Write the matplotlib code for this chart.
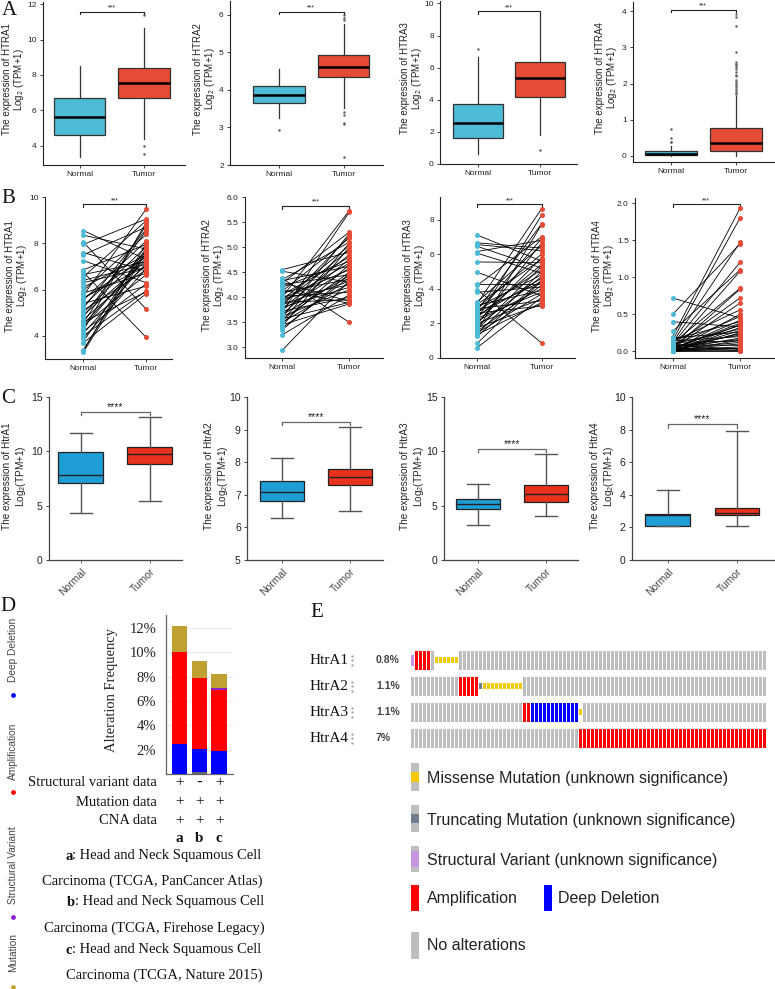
import numpy as np
import matplotlib
matplotlib.use("Agg")
import matplotlib.pyplot as plt
from matplotlib.patches import Rectangle
from matplotlib.ticker import FormatStrFormatter
from matplotlib.transforms import blended_transform_factory

plt.rcParams['font.family'] = ['Liberation Sans', 'DejaVu Sans']
plt.rcParams['mathtext.fontset'] = 'custom'
plt.rcParams['mathtext.rm'] = 'Liberation Sans'
plt.rcParams['mathtext.it'] = 'Liberation Sans:italic'
plt.rcParams['mathtext.bf'] = 'Liberation Sans:bold'

# ----------------------------------------------------------------- data
groups = ["Normal", "Tumor"]
genes_upper = ["HTRA1", "HTRA2", "HTRA3", "HTRA4"]
genes_mixed = ["HtrA1", "HtrA2", "HtrA3", "HtrA4"]

# Panel A (box plots, TCGA unpaired)
a_normal_low = [3.34, 3.24, 0.60, 0.00]
a_normal_q1 = [4.58, 3.66, 1.64, 0.02]
a_normal_med = [5.63, 3.86, 2.55, 0.06]
a_normal_q3 = [6.71, 4.11, 3.71, 0.13]
a_normal_high = [8.52, 4.55, 6.68, 0.28]
a_normal_out = [[], [2.93], [7.16], [0.73, 0.50, 0.39, 0.39]]
a_tumor_low = [4.36, 3.51, 1.80, 0.00]
a_tumor_q1 = [6.71, 4.34, 4.19, 0.14]
a_tumor_med = [7.57, 4.62, 5.35, 0.36]
a_tumor_q3 = [8.38, 4.93, 6.37, 0.76]
a_tumor_high = [10.63, 5.75, 9.34, 1.66]
a_tumor_out = [[11.38, 3.98, 3.53],
               [6.00, 5.91, 5.87, 3.40, 3.33, 3.11, 3.09, 2.22],
               [0.87],
               [3.92, 3.85, 3.60, 2.87, 2.60, 2.55, 2.50, 2.46, 2.40, 2.32,
                2.25, 2.20, 2.10, 2.05, 2.00, 1.96, 1.91, 1.85, 1.80, 1.75, 1.70]]
a_sig_y = [11.57, 6.09, 9.52, 4.05]
a_sig_label = "***"

# Panel B (paired samples)
b_htra1_normal = [8.55, 8.35, 8.05, 7.95, 7.60, 7.50, 7.25, 6.85, 6.75, 6.65, 6.55, 6.40, 6.30, 6.10, 5.95,
                  5.85, 5.75, 5.65, 5.60, 5.55, 5.40, 5.30, 5.20, 5.10, 5.00, 4.90, 4.80, 4.70, 4.60, 4.55,
                  4.50, 4.45, 4.35, 4.25, 4.20, 4.10, 4.00, 3.90, 3.75, 3.70, 3.40, 3.35, 3.30]
b_htra1_tumor = [7.30, 7.75, 5.15, 9.05, 6.80, 8.70, 6.30, 7.95, 3.93, 7.20, 8.98, 7.10, 6.95, 7.50, 8.38,
                 6.70, 9.48, 7.00, 7.42, 8.10, 6.15, 7.85, 8.62, 6.85, 7.65, 7.25, 8.55, 7.05, 5.90, 8.80,
                 7.38, 6.65, 7.55, 8.90, 6.25, 7.15, 5.95, 6.90, 7.80, 5.82, 7.72, 8.00, 7.60]
b_htra2_normal = [4.55, 4.52, 4.38, 4.35, 4.33, 4.30, 4.28, 4.25, 4.20, 4.15, 4.12, 4.10, 4.05, 4.02, 4.00,
                  3.98, 3.97, 3.95, 3.92, 3.90, 3.87, 3.85, 3.82, 3.80, 3.77, 3.75, 3.72, 3.70, 3.67, 3.65,
                  3.62, 3.60, 3.57, 3.55, 3.52, 3.50, 3.48, 3.45, 3.42, 3.38, 3.35, 3.25, 2.94]
b_htra2_tumor = [4.90, 4.30, 3.50, 5.10, 4.62, 3.92, 5.30, 4.45, 4.72, 3.88, 5.18, 4.36, 4.80, 4.10, 5.73,
                 4.55, 4.25, 5.03, 4.68, 3.95, 4.95, 4.32, 5.22, 4.20, 4.85, 4.58, 4.00, 5.70, 4.76, 4.43,
                 4.15, 5.27, 3.90, 4.50, 5.08, 4.28, 4.65, 3.87, 5.00, 4.40, 4.47, 4.05, 4.33]
b_htra3_normal = [7.10, 6.65, 6.55, 6.45, 6.15, 6.05, 5.55, 4.95, 4.30, 4.20, 3.95, 3.80, 3.25, 3.15, 3.10,
                  3.05, 2.95, 2.90, 2.85, 2.75, 2.70, 2.65, 2.60, 2.55, 2.45, 2.35, 2.30, 2.25, 2.15, 2.05,
                  2.00, 1.95, 1.85, 1.75, 1.65, 1.60, 1.55, 1.45, 1.40, 1.35, 1.25, 0.85, 0.60]
b_htra3_tumor = [5.60, 6.35, 6.20, 5.20, 6.80, 4.90, 5.50, 3.60, 4.30, 7.00, 0.87, 4.10, 6.50, 8.62, 5.70,
                 3.90, 4.80, 6.00, 3.30, 7.75, 5.10, 4.40, 3.00, 6.90, 4.60, 5.40, 3.80, 8.25, 4.00, 5.80,
                 3.40, 6.65, 4.70, 3.10, 5.30, 7.70, 4.20, 3.70, 5.00, 3.20, 4.50, 4.45, 3.50]
b_htra4_normal = [0.72, 0.50, 0.40, 0.27, 0.20, 0.18, 0.16, 0.15, 0.14, 0.13, 0.12, 0.12, 0.11, 0.10, 0.10,
                  0.09, 0.08, 0.08, 0.07, 0.06, 0.06, 0.05, 0.05, 0.05, 0.04, 0.04, 0.03, 0.03, 0.03, 0.02,
                  0.02, 0.02, 0.02, 0.01, 0.01, 0.01, 0.01, 0.00, 0.00, 0.00, 0.00, 0.00, 0.00]
b_htra4_tumor = [0.45, 1.45, 0.33, 1.10, 1.93, 0.26, 0.40, 1.80, 0.20, 0.56, 1.47, 0.14, 0.85, 0.30, 1.20,
                 0.08, 0.47, 0.03, 0.72, 0.22, 0.16, 1.08, 0.35, 0.05, 0.65, 0.12, 0.38, 0.01, 0.84, 0.24,
                 0.10, 0.42, 0.18, 0.50, 0.02, 0.28, 0.06, 0.32, 0.00, 0.36, 0.15, 0.04, 0.25]
b_sig_y = [9.70, 5.83, 8.89, 1.99]

# Panel C (box plots, Prism style)
c_normal_low = [4.37, 6.28, 3.20, 2.11]
c_normal_q1 = [7.08, 6.82, 4.70, 2.11]
c_normal_med = [7.78, 7.10, 5.14, 2.75]
c_normal_q3 = [9.90, 7.42, 5.60, 2.85]
c_normal_high = [11.69, 8.14, 7.02, 4.32]
c_tumor_low = [5.45, 6.50, 4.06, 2.11]
c_tumor_q1 = [8.83, 7.30, 5.32, 2.75]
c_tumor_med = [9.75, 7.56, 6.06, 2.87]
c_tumor_q3 = [10.37, 7.80, 6.86, 3.18]
c_tumor_high = [13.14, 9.08, 9.75, 7.89]
c_sig_y = [13.60, 9.23, 10.25, 8.36]
c_sig_label = "****"

# Panel D (alteration frequency, %)
d_studies = ["a", "b", "c"]
d_multiple = [0.00, 0.15, 0.00]
d_deep_deletion = [2.50, 1.90, 1.90]
d_amplification = [7.50, 5.85, 5.00]
d_structural = [0.00, 0.00, 0.15]
d_mutation = [2.20, 1.35, 1.15]
d_sv_data = ["+", "-", "+"]
d_mut_data = ["+", "+", "+"]
d_cna_data = ["+", "+", "+"]
d_yticks = [2, 4, 6, 8, 10, 12]
d_notes = [("a", ": Head and Neck Squamous Cell", "Carcinoma (TCGA, PanCancer Atlas)"),
           ("b", ": Head and Neck Squamous Cell", "Carcinoma (TCGA, Firehose Legacy)"),
           ("c", ": Head and Neck Squamous Cell", "Carcinoma (TCGA, Nature 2015)")]
d_side_legend = ["Deep Deletion", "Amplification", "Structural Variant", "Mutation"]

# Panel E (oncoprint, run-length per gene)
e_pct = ["0.8%", "1.1%", "1.1%", "7%"]
e_runs = [
    [("SV", 1), ("AMP", 4), ("NONE", 1), ("MIS", 6), ("NONE", 77)],
    [("NONE", 12), ("AMP", 5), ("TRUNC", 1), ("MIS", 10), ("NONE", 61)],
    [("NONE", 28), ("AMP", 2), ("DEL", 12), ("MIS", 1), ("NONE", 46)],
    [("NONE", 42), ("AMP", 47)],
]
e_legend = ["Missense Mutation (unknown significance)", "Truncating Mutation (unknown significance)",
            "Structural Variant (unknown significance)", "Amplification", "Deep Deletion", "No alterations"]

# ----------------------------------------------------------------- style
C_NORM = "#4DBBD5"
C_TUM = "#E64B35"
C_NORM_C = "#1F9ED6"
C_TUM_C = "#E8321C"
ONCO = {"NONE": "#bebebe", "AMP": "#ff0000", "DEL": "#0000ff", "MIS": "#f7c800",
        "TRUNC": "#6f7f8f", "SV": "#c896e0"}
D_COL = {"multiple": "#666666", "del": "#0000ff", "amp": "#ff0000", "sv": "#8b1fc9", "mut": "#c0a030"}
SERIF = ['Liberation Serif', 'DejaVu Serif']

W, H = 775, 989
fig = plt.figure(figsize=(W / 100, H / 100), dpi=100)

# overlay in pixel coordinates for free text
ov = fig.add_axes([0, 0, 1, 1], zorder=10)
ov.set_xlim(0, W)
ov.set_ylim(H, 0)
ov.axis('off')


def px_axes(l, t, r, b):
    return fig.add_axes([l / W, 1 - b / H, (r - l) / W, (b - t) / H])


def style_basic(ax, xlim, ylim, yticks, fs_tick, lw=0.8, col='#222222'):
    ax.set_xlim(*xlim)
    ax.set_ylim(*ylim)
    ax.set_yticks(yticks)
    ax.set_xticks([1, 2])
    for s in ['top', 'right']:
        ax.spines[s].set_visible(False)
    for s in ['left', 'bottom']:
        ax.spines[s].set_color(col)
        ax.spines[s].set_linewidth(lw)
    ax.tick_params(labelsize=fs_tick, length=2.5, width=0.6, colors=col, pad=2)


def bracket(ax, y, drop, label, fs, color, lw=0.8):
    ax.plot([1, 1, 2, 2], [y - drop, y, y, y - drop], color=color, lw=lw, clip_on=False)
    ax.text(1.5, y, label, ha='center', va='bottom', fontsize=fs, color='#222222')


def ylabel_px(xc, yc, text, fs, ls):
    ov.text(xc, yc, text, rotation=90, ha='center', va='center', multialignment='center',
            fontsize=fs, linespacing=ls, color='#222222')


# ----------------------------------------------------------------- Row A
a_rects = [(43, 2, 185, 165), (230, 1, 383, 165), (440, 1, 577, 164), (633, 2, 775, 162)]
a_xlims = [(0.43, 2.64), (0.24, 2.61), (0.40, 2.585), (0.42, 2.60)]
a_ylims = [(2.9, 12.13), (2.0, 6.37), (0.0, 10.15), (-0.175, 4.26)]
a_yticks = [[4, 6, 8, 10, 12], [2, 3, 4, 5, 6], [0, 2, 4, 6, 8, 10], [0, 1, 2, 3, 4]]
a_drop = [0.13, 0.06, 0.18, 0.07]
a_label_x = [14, 205, 412, 607]
for i in range(4):
    ax = px_axes(*a_rects[i])
    stats = [dict(whislo=a_normal_low[i], q1=a_normal_q1[i], med=a_normal_med[i], q3=a_normal_q3[i],
                  whishi=a_normal_high[i], fliers=a_normal_out[i]),
             dict(whislo=a_tumor_low[i], q1=a_tumor_q1[i], med=a_tumor_med[i], q3=a_tumor_q3[i],
                  whishi=a_tumor_high[i], fliers=a_tumor_out[i])]
    bp = ax.bxp(stats, positions=[1, 2], widths=0.8, patch_artist=True, showcaps=False,
                boxprops=dict(edgecolor='#333333', linewidth=0.9),
                medianprops=dict(color='black', linewidth=1.8),
                whiskerprops=dict(color='#333333', linewidth=0.9),
                flierprops=dict(marker='o', markersize=1.8, markerfacecolor='#666666',
                                markeredgecolor='none'))
    for patch, c in zip(bp['boxes'], [C_NORM, C_TUM]):
        patch.set_facecolor(c)
    style_basic(ax, a_xlims[i], a_ylims[i], a_yticks[i], 6)
    ax.set_xticklabels(groups)
    ylabel_px(a_label_x[i], (a_rects[i][1] + a_rects[i][3]) / 2 - 4,
              f"The expression of {genes_upper[i]}\nLog$_2$ (TPM+1)", 7, 1.0)
    bracket(ax, a_sig_y[i], a_drop[i], a_sig_label, 5, '#222222', lw=0.8)

# ----------------------------------------------------------------- Row B
b_rects = [(45, 197, 172, 359), (245, 197, 383, 358), (440, 197, 575, 358), (635, 198, 775, 358)]
b_xlims = [(0.39, 2.41), (0.45, 2.50), (0.42, 2.52), (0.44, 2.52)]
b_ylims = [(3.0, 10.0), (2.79, 6.0), (0.0, 9.3), (-0.09, 2.07)]
b_yticks = [[4, 6, 8, 10], [3.0, 3.5, 4.0, 4.5, 5.0, 5.5, 6.0], [0, 2, 4, 6, 8], [0.0, 0.5, 1.0, 1.5, 2.0]]
b_fmt = ['%d', '%.1f', '%d', '%.1f']
b_drop = [0.15, 0.07, 0.18, 0.04]
b_label_x = [17, 214, 415, 604]
b_normals = [b_htra1_normal, b_htra2_normal, b_htra3_normal, b_htra4_normal]
b_tumors = [b_htra1_tumor, b_htra2_tumor, b_htra3_tumor, b_htra4_tumor]
for i in range(4):
    ax = px_axes(*b_rects[i])
    nv = b_normals[i]
    tv = b_tumors[i]
    for n, t in zip(nv, tv):
        ax.plot([1, 2], [n, t], color='black', lw=0.6, zorder=2)
    ax.scatter([1] * len(nv), nv, s=13, color=C_NORM, zorder=3, linewidths=0)
    ax.scatter([2] * len(tv), tv, s=13, color=C_TUM, zorder=3, linewidths=0)
    style_basic(ax, b_xlims[i], b_ylims[i], b_yticks[i], 6)
    ax.yaxis.set_major_formatter(FormatStrFormatter(b_fmt[i]))
    ax.set_xticklabels(groups)
    ylabel_px(b_label_x[i], (b_rects[i][1] + b_rects[i][3]) / 2 - 2,
              f"The expression of {genes_upper[i]}\nLog$_2$ (TPM+1)", 7, 1.0)
    bracket(ax, b_sig_y[i], b_drop[i], a_sig_label, 5, '#222222', lw=0.8)

# ----------------------------------------------------------------- Row C
c_rects = [(49, 397, 182, 560), (247, 397, 383, 560), (444, 397, 578, 560), (632, 397, 775, 560)]
c_xlims = [(0.54, 2.47), (0.49, 2.49), (0.50, 2.47), (0.48, 2.55)]
c_ylims = [(0, 15), (5, 10), (0, 15), (0, 10)]
c_yticks = [[0, 5, 10, 15], [5, 6, 7, 8, 9, 10], [0, 5, 10, 15], [0, 2, 4, 6, 8, 10]]
c_drop = [0.25, 0.1, 0.3, 0.25]
c_label_x = [15, 217, 413, 603]
for i in range(4):
    ax = px_axes(*c_rects[i])
    stats = [dict(whislo=c_normal_low[i], q1=c_normal_q1[i], med=c_normal_med[i], q3=c_normal_q3[i],
                  whishi=c_normal_high[i], fliers=[]),
             dict(whislo=c_tumor_low[i], q1=c_tumor_q1[i], med=c_tumor_med[i], q3=c_tumor_q3[i],
                  whishi=c_tumor_high[i], fliers=[])]
    bp = ax.bxp(stats, positions=[1, 2], widths=0.65, patch_artist=True, showcaps=True,
                capwidths=0.32, showfliers=False,
                boxprops=dict(edgecolor='#222222', linewidth=0.9),
                medianprops=dict(color='#222222', linewidth=1.0),
                whiskerprops=dict(color='#555555', linewidth=1.0),
                capprops=dict(color='#555555', linewidth=1.0))
    for patch, c in zip(bp['boxes'], [C_NORM_C, C_TUM_C]):
        patch.set_facecolor(c)
    style_basic(ax, c_xlims[i], c_ylims[i], c_yticks[i], 7.5, lw=0.9, col='#444444')
    ax.tick_params(axis='y', colors='#222222')
    ax.set_xticklabels(groups, rotation=45, ha='right', rotation_mode='anchor', fontsize=7.5)
    ylabel_px(c_label_x[i], (c_rects[i][1] + c_rects[i][3]) / 2 - 2,
              f"The expression of {genes_mixed[i]}\nLog$_2$(TPM+1)", 7.2, 1.15)
    ax.plot([1, 1, 2, 2], [c_sig_y[i] - c_drop[i], c_sig_y[i], c_sig_y[i], c_sig_y[i] - c_drop[i]],
            color='#666666', lw=0.9, clip_on=False)
    ax.text(1.5, c_sig_y[i], c_sig_label, ha='center', va='bottom', fontsize=7.5, color='#222222')

# ----------------------------------------------------------------- Row D
axd = px_axes(166, 615, 233, 774)
xd = np.arange(len(d_studies))
bottom = np.zeros(len(d_studies))
for vals, key in [(d_multiple, "multiple"), (d_deep_deletion, "del"), (d_amplification, "amp"),
                  (d_structural, "sv"), (d_mutation, "mut")]:
    v = np.array(vals)
    axd.bar(xd, v, bottom=bottom, width=0.78, color=D_COL[key], zorder=3, linewidth=0)
    bottom = bottom + v
axd.set_xlim(-0.675, 2.7)
axd.set_ylim(0, 13.07)
axd.set_yticks(d_yticks)
axd.set_yticklabels([f"{t}%" for t in d_yticks], fontfamily=SERIF, fontsize=10.5)
axd.set_xticks([])
axd.yaxis.grid(True, color='#eeeeee', lw=0.8, zorder=0)
axd.set_axisbelow(True)
for s in ['top', 'right']:
    axd.spines[s].set_visible(False)
for s in ['left', 'bottom']:
    axd.spines[s].set_color('#666666')
    axd.spines[s].set_linewidth(0.9)
axd.tick_params(axis='y', length=0, pad=7, colors='#222222')

# ----------------------------------------------------------------- Row E oncoprint
axe = px_axes(410, 647.25, 766, 751.25)
axe.set_xlim(-0.625, 88.375)
axe.set_ylim(4, 0)
axe.axis('off')
full_h = 0.712
for r, runs in enumerate(e_runs):
    codes = []
    for code, n in runs:
        codes += [code] * n
    xs = np.arange(len(codes))
    full = [k for k, c in enumerate(codes) if c in ("NONE", "AMP", "DEL")]
    axe.bar(xs[full], full_h, bottom=r + 0.144, width=0.72,
            color=[ONCO[codes[k]] for k in full], linewidth=0)
    small = [k for k, c in enumerate(codes) if c in ("MIS", "TRUNC")]
    if small:
        axe.bar(xs[small], full_h * 0.33, bottom=r + 0.5 - full_h * 0.165, width=0.72,
                color=[ONCO[codes[k]] for k in small], linewidth=0)
    sv = [k for k, c in enumerate(codes) if c == "SV"]
    if sv:
        axe.bar(xs[sv], full_h * 0.62, bottom=r + 0.5 - full_h * 0.31, width=0.55,
                color=[ONCO[codes[k]] for k in sv], linewidth=0)

# ----------------------------------------------------------------- overlay texts
for letter, (x, y) in zip("ABCDE", [(2, 1), (1, 189), (1, 389), (0, 597), (310, 603)]):
    ov.text(x, y, letter, fontfamily=SERIF, fontsize=15, ha='left', va='top', color='#111111')

# D: axis label and data rows
ov.text(112, 690, "Alteration Frequency", rotation=90, ha='center', va='center',
        fontfamily=SERIF, fontsize=10.5, color='#222222')
trD = blended_transform_factory(axd.transData, ov.transData)
for label, marks, y in [("Structural variant data", d_sv_data, 783),
                        ("Mutation data", d_mut_data, 802),
                        ("CNA data", d_cna_data, 821)]:
    ov.text(157, y, label, ha='right', va='center', fontfamily=SERIF, fontsize=10.5, color='#111111')
    for k, m in enumerate(marks):
        ov.text(k, y, m, transform=trD, ha='center', va='center', fontfamily=SERIF,
                fontsize=11 if m == "+" else 12, fontweight='bold' if m == "-" else 'normal',
                color='#111111')
for k, s in enumerate(d_studies):
    ov.text(k, 838, s, transform=trD, ha='center', va='center', fontfamily=SERIF, fontsize=11,
            fontweight='bold', color='#111111')

renderer = fig.canvas.get_renderer()
note_pos = [(65, 856, 152, 881), (67, 902, 154.5, 928), (65, 950, 164, 975)]
for (letter, rest, line2), (x0, y1, xc2, y2) in zip(d_notes, note_pos):
    t = ov.text(x0, y1, letter, ha='left', va='center', fontfamily=SERIF, fontsize=10.5,
                fontweight='bold', color='#111111')
    bb = t.get_window_extent(renderer)
    x1 = ov.transData.inverted().transform((bb.x1, bb.y0))[0]
    ov.text(x1, y1, rest, ha='left', va='center', fontfamily=SERIF, fontsize=10.5, color='#111111')
    ov.text(xc2, y2, line2, ha='center', va='center', fontfamily=SERIF, fontsize=10.5, color='#111111')

# D: side legend (rotated)
side_pos = [(650, 695), (751, 792), (865, 917), (952, 987)]
side_col = [D_COL["del"], D_COL["amp"], D_COL["sv"], D_COL["mut"]]
for lab, (yc, yd), c in zip(d_side_legend, side_pos, side_col):
    ov.text(13, yc, lab, rotation=90, ha='center', va='center', fontsize=7.3, color='#444444')
    ov.scatter([13], [yd], s=12, color=c, linewidths=0)

# E: gene labels, dots, percentages
row_centers = [660, 686, 712, 738]
for g, p, yc in zip(genes_mixed, e_pct, row_centers):
    ov.text(310, yc, g, ha='left', va='center', fontfamily=SERIF, fontsize=11, color='#111111')
    ov.scatter([352, 352, 352], [yc - 4.5, yc, yc + 4.5], s=3, color='#aaaaaa', linewidths=0)
    ov.text(376, yc, p, ha='left', va='center', fontsize=7.5, fontweight='bold', color='#444444')


# E: legend
def swatch(x, top, h, color):
    ov.add_patch(Rectangle((x, top), 8, h, facecolor=color, edgecolor='none'))


swatch(411, 763, 28, ONCO["NONE"]); swatch(411, 772, 10, ONCO["MIS"])
swatch(411, 805, 27, ONCO["NONE"]); swatch(411, 813.5, 9.5, ONCO["TRUNC"])
swatch(411, 846, 26, ONCO["NONE"]); swatch(411, 851, 16, ONCO["SV"])
swatch(411, 885, 26, ONCO["AMP"])
swatch(544, 885, 26, ONCO["DEL"])
swatch(411, 932, 27, ONCO["NONE"])
leg_pos = [(427, 779), (427, 820), (427, 861), (427, 899), (558, 899), (427, 946)]
for lab, (x, y) in zip(e_legend, leg_pos):
    ov.text(x, y, lab, ha='left', va='center', fontsize=11.5, color='#222222')

fig.savefig("out.png", dpi=100)
